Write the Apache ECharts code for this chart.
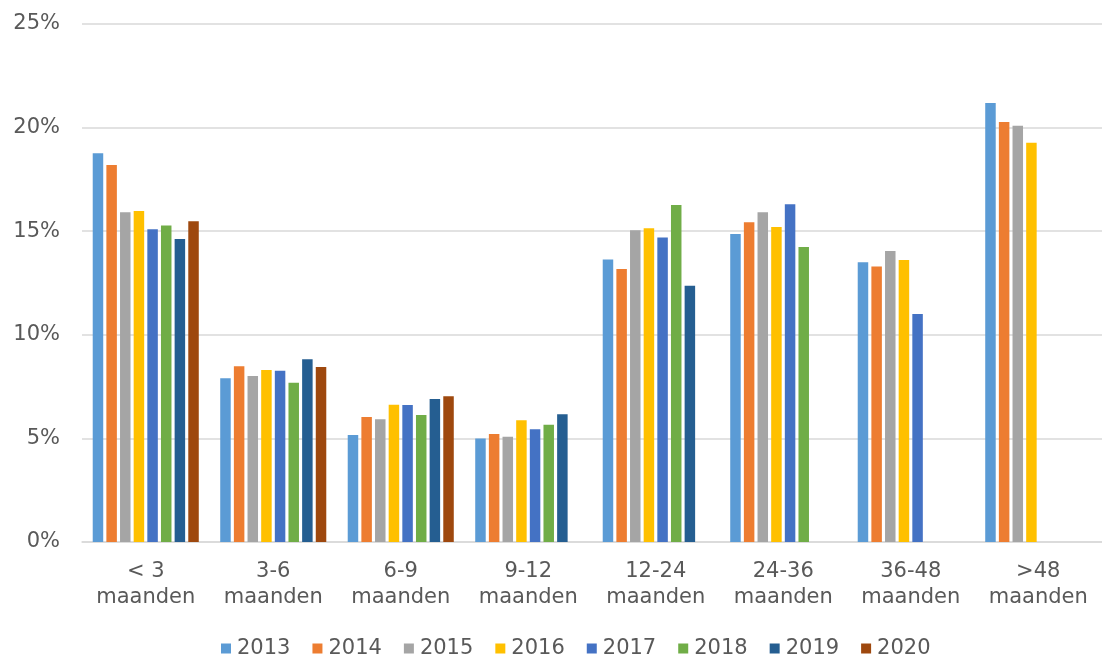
<!DOCTYPE html>
<html>
<head>
<meta charset="utf-8">
<script src="https://cdn.jsdelivr.net/npm/echarts@6/dist/echarts.min.js"></script>
<style>
html,body{margin:0;padding:0;background:#fff;}
#chart{width:1102px;height:657px;}
</style>
</head>
<body>
<div id="chart"></div>
<script>
const categories = ['< 3\nmaanden', '3-6\nmaanden', '6-9\nmaanden', '9-12\nmaanden', '12-24\nmaanden', '24-36\nmaanden', '36-48\nmaanden', '>48\nmaanden'];
const years = ['2013', '2014', '2015', '2016', '2017', '2018', '2019', '2020'];
const yTicks = [0, 5, 10, 15, 20, 25];

const s2013 = [18.76, 7.90, 5.16, 4.99, 13.64, 14.86, 13.50, 21.19];
const s2014 = [18.19, 8.48, 6.03, 5.21, 13.18, 15.43, 13.30, 20.27];
const s2015 = [15.91, 8.01, 5.92, 5.08, 15.04, 15.91, 14.04, 20.09];
const s2016 = [15.97, 8.30, 6.63, 5.87, 15.14, 15.20, 13.61, 19.27];
const s2017 = [15.09, 8.27, 6.61, 5.44, 14.69, 16.30, 11.00, null];
const s2018 = [15.28, 7.69, 6.13, 5.66, 16.26, 14.24, null, null];
const s2019 = [14.62, 8.82, 6.90, 6.16, 12.37, null, null, null];
const s2020 = [15.48, 8.45, 7.03, null, null, null, null, null];

const seriesValues = [s2013, s2014, s2015, s2016, s2017, s2018, s2019, s2020];
const colors = ['#5B9BD5', '#ED7D31', '#A5A5A5', '#FFC000', '#4472C4', '#70AD47', '#255E91', '#9E480E'];

const font = 'DejaVu Sans';
const chart = echarts.init(document.getElementById('chart'));
chart.setOption({
  animation: false,
  color: colors,
  textStyle: { fontFamily: font },
  grid: { left: 82, right: 0, top: 24, bottom: 115, containLabel: false },
  legend: {
    data: years,
    left: 216,
    bottom: -7,
    itemWidth: 10,
    itemHeight: 10,
    itemGap: 22,
    icon: 'rect',
    textStyle: { fontFamily: font, fontSize: 21, color: '#595959', padding: [0, 0, 0, 1] }
  },
  xAxis: {
    type: 'category',
    data: categories,
    axisLine: { show: true, lineStyle: { color: '#d9d9d9', width: 1.5 } },
    axisTick: { show: false },
    axisLabel: { fontFamily: font, fontSize: 21, color: '#595959', lineHeight: 26, margin: 17, interval: 0 }
  },
  yAxis: {
    type: 'value',
    min: yTicks[0],
    max: yTicks[yTicks.length - 1],
    interval: 5,
    axisLine: { show: false },
    axisTick: { show: false },
    splitLine: { lineStyle: { color: '#d9d9d9', width: 1.5 } },
    axisLabel: { fontFamily: font, fontSize: 21, color: '#595959', margin: 22, formatter: '{value}%' }
  },
  series: years.map((y, i) => ({
    name: y,
    type: 'bar',
    data: seriesValues[i],
    barWidth: 10.5,
    barGap: '30%'
  }))
});
</script>
</body>
</html>
